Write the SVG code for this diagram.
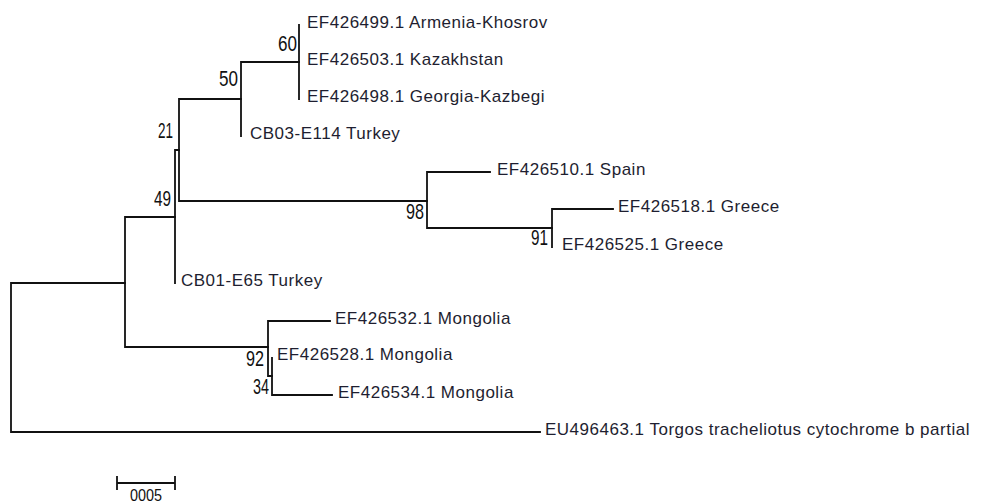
<svg xmlns="http://www.w3.org/2000/svg" width="982" height="504" viewBox="0 0 982 504">
<style>
.br{stroke:#111;stroke-width:1.8;fill:none;stroke-linecap:square}
.tx{font-family:"Liberation Sans",Arial,sans-serif;font-size:17px;letter-spacing:0.5px;fill:#1e1e30}
.bs{font-family:"Liberation Sans",Arial,sans-serif;font-size:22px;fill:#111;text-anchor:end}
.sc{font-family:"Liberation Sans",Arial,sans-serif;font-size:17px;fill:#111;text-anchor:middle}
</style>
<rect width="982" height="504" fill="#fff"/>
<g id="connectors" class="br">
<path d="M11 283V432M11 283H125M11 432H540"/>
<path d="M125 217V347M125 217H175M125 347H268"/>
<path d="M175 150V283M175 150H179"/>
<path d="M179 99V201M179 99H241M179 201H427"/>
<path d="M241 62V136M241 62H299"/>
<path d="M299 25V99"/>
<path d="M427 172V228M427 172H490M427 228H552"/>
<path d="M552 209V247M552 209H613"/>
<path d="M268 321V376M268 321H330M268 376H272"/>
<path d="M272 358V395M272 395H332"/>
</g>
<g id="leaf-ef426499"><text class="tx" x="307" y="28">EF426499.1 Armenia-Khosrov</text></g>
<g id="leaf-ef426503"><text class="tx" x="307" y="65">EF426503.1 Kazakhstan</text></g>
<g id="leaf-ef426498"><text class="tx" x="307" y="102">EF426498.1 Georgia-Kazbegi</text></g>
<g id="leaf-cb03"><text class="tx" x="250" y="139">CB03-E114 Turkey</text></g>
<g id="leaf-ef426510"><text class="tx" x="497" y="175">EF426510.1 Spain</text></g>
<g id="leaf-ef426518"><text class="tx" x="618" y="212">EF426518.1 Greece</text></g>
<g id="leaf-ef426525"><text class="tx" x="562" y="250">EF426525.1 Greece</text></g>
<g id="leaf-cb01"><text class="tx" x="181" y="286">CB01-E65 Turkey</text></g>
<g id="leaf-ef426532"><text class="tx" x="335" y="324">EF426532.1 Mongolia</text></g>
<g id="leaf-ef426528"><text class="tx" x="277" y="360">EF426528.1 Mongolia</text></g>
<g id="leaf-ef426534"><text class="tx" x="338" y="398">EF426534.1 Mongolia</text></g>
<g id="leaf-eu496463"><text class="tx" x="545" y="435">EU496463.1 Torgos tracheliotus cytochrome b partial</text></g>
<g id="node-60"><text class="bs" x="297" y="51" textLength="19" lengthAdjust="spacingAndGlyphs">60</text></g>
<g id="node-50"><text class="bs" x="238" y="86" textLength="19" lengthAdjust="spacingAndGlyphs">50</text></g>
<g id="node-21"><text class="bs" x="173" y="138" textLength="15" lengthAdjust="spacingAndGlyphs">21</text></g>
<g id="node-49"><text class="bs" x="171" y="206" textLength="17" lengthAdjust="spacingAndGlyphs">49</text></g>
<g id="node-98"><text class="bs" x="424" y="219" textLength="18" lengthAdjust="spacingAndGlyphs">98</text></g>
<g id="node-91"><text class="bs" x="548" y="245" textLength="17" lengthAdjust="spacingAndGlyphs">91</text></g>
<g id="node-92"><text class="bs" x="264" y="366" textLength="18" lengthAdjust="spacingAndGlyphs">92</text></g>
<g id="node-34"><text class="bs" x="269" y="394" textLength="16" lengthAdjust="spacingAndGlyphs">34</text></g>
<g id="scale-bar">
<path class="br" d="M117 483H175M117 477V489M175 477V489"/>
<text class="sc" x="146" y="501" textLength="32" lengthAdjust="spacingAndGlyphs">0005</text>
</g>
</svg>
